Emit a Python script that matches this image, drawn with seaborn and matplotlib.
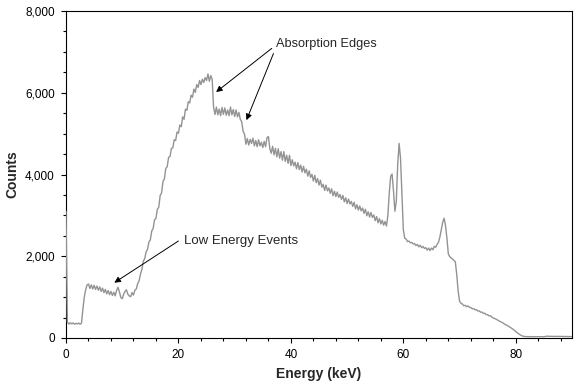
import numpy as np
import pandas as pd
import matplotlib
matplotlib.use("Agg")
import matplotlib.pyplot as plt
from matplotlib.ticker import MultipleLocator, FuncFormatter
import seaborn as sns

# Channel energies (keV), 0.25 keV per channel
energy = np.arange(0, 90.001, 0.25)

# Counts (one row = 2 keV)
counts = [
    3100, 390, 340, 372, 345, 368, 338, 360,
    342, 366, 338, 358, 700, 1000, 1180, 1300,
    1320, 1210, 1300, 1200, 1290, 1190, 1270, 1170,
    1250, 1140, 1220, 1110, 1190, 1080, 1160, 1060,
    1140, 1040, 1120, 1030, 1160, 1240, 1130, 990,
    960, 1070, 1140, 1180, 1070, 1030, 1010, 1110,
    1050, 1170, 1200, 1330, 1400, 1560, 1680, 1880,
    1940, 2110, 2170, 2350, 2400, 2620, 2680, 2890,
    2930, 3150, 3200, 3490, 3550, 3830, 3890, 4150,
    4190, 4420, 4440, 4640, 4650, 4850, 4830, 5040,
    5010, 5210, 5170, 5410, 5350, 5600, 5570, 5780,
    5750, 5940, 5890, 6090, 6010, 6200, 6130, 6300,
    6200, 6330, 6250, 6370, 6300, 6460, 6280, 6420,
    6330, 5640, 5470, 5650, 5460, 5600, 5440, 5640,
    5470, 5630, 5450, 5580, 5440, 5650, 5460, 5590,
    5420, 5580, 5410, 5520, 5350, 5290, 5060, 4990,
    4740, 4880, 4720, 4860, 4760, 4890, 4700, 4830,
    4680, 4850, 4700, 4790, 4660, 4810, 4680, 4900,
    4930, 4640, 4520, 4690, 4480, 4640, 4430, 4630,
    4400, 4560, 4350, 4560, 4320, 4470, 4270, 4470,
    4220, 4360, 4210, 4300, 4140, 4290, 4120, 4230,
    4060, 4200, 4040, 4130, 3960, 4090, 3930, 4000,
    3840, 3980, 3800, 3900, 3740, 3860, 3690, 3760,
    3610, 3740, 3600, 3670, 3540, 3650, 3480, 3590,
    3460, 3570, 3440, 3510, 3390, 3490, 3330, 3430,
    3290, 3400, 3280, 3340, 3220, 3320, 3160, 3260,
    3130, 3230, 3110, 3180, 3050, 3150, 2990, 3090,
    2960, 3070, 2950, 3010, 2870, 2970, 2820, 2920,
    2790, 2880, 2760, 2850, 2740, 3000, 3550, 3960,
    4010, 3600, 3100, 3350, 4250, 4760, 4400, 3500,
    2650, 2440, 2420, 2360, 2370, 2330, 2340, 2300,
    2310, 2260, 2290, 2230, 2270, 2210, 2240, 2190,
    2210, 2150, 2200, 2140, 2200, 2160, 2240, 2220,
    2290, 2340, 2470, 2650, 2830, 2930, 2750, 2450,
    2060, 1990, 1960, 1930, 1900, 1860, 1550, 1150,
    900, 850, 830, 790, 800, 765, 785, 750,
    745, 715, 720, 690, 695, 660, 665, 630,
    635, 600, 605, 570, 570, 540, 545, 510,
    490, 475, 460, 440, 420, 400, 385, 365,
    340, 320, 305, 285, 260, 240, 215, 190,
    160, 130, 105, 80, 60, 45, 38, 35,
    33, 32, 34, 31, 33, 32, 30, 33,
    32, 31, 33, 30, 32, 34, 45, 42,
    40, 41, 39, 40, 38, 40, 39, 38,
    37, 38, 36, 37, 35, 36, 34, 35,
    34,
]

x_ticks = [0, 20, 40, 60, 80]
y_ticks = [0, 2000, 4000, 6000, 8000]

df = pd.DataFrame({"Energy": energy, "Counts": counts})

sns.set_style("ticks")
plt.rcParams["font.family"] = ["Liberation Sans", "DejaVu Sans"]

fig = plt.figure(figsize=(5.78, 3.87), dpi=100)
ax = fig.add_axes([66 / 578, 1 - 338 / 387, (572 - 66) / 578, (338 - 11) / 387])

sns.lineplot(data=df, x="Energy", y="Counts", ax=ax, color="#939393",
             linewidth=1.0, estimator=None, zorder=3)

ax.set_xlim(0, 90)
ax.set_ylim(0, 8000)
ax.set_xticks(x_ticks)
ax.set_yticks(y_ticks)
ax.xaxis.set_minor_locator(MultipleLocator(4))
ax.yaxis.set_minor_locator(MultipleLocator(500))
ax.yaxis.set_major_formatter(FuncFormatter(lambda v, p: f"{int(v):,}"))

ax.tick_params(axis="both", which="major", length=3.5, width=0.8,
               labelsize=8.5, pad=4.5, color="black", labelcolor="black")
ax.tick_params(axis="both", which="minor", length=2, width=0.8, color="black")

for s in ax.spines.values():
    s.set_visible(True)
    s.set_color("black")
    s.set_linewidth(0.8)

ax.set_xlabel("Energy (keV)", fontsize=10, fontweight="bold", labelpad=4)
ax.set_ylabel("Counts", fontsize=10, fontweight="bold", labelpad=4)

arrow_kw = dict(arrowstyle="-|>", color="black", lw=0.7, mutation_scale=9,
                shrinkA=0, shrinkB=0)
ax.text(37.3, 7190, "Absorption Edges", fontsize=9.2, va="center", ha="left")
ax.annotate("", xy=(26.7, 6017), xytext=(36.6, 7086), arrowprops=arrow_kw)
ax.annotate("", xy=(32.1, 5330), xytext=(36.9, 6960), arrowprops=arrow_kw)
ax.text(21.0, 2373, "Low Energy Events", fontsize=9.5, va="center", ha="left")
ax.annotate("", xy=(8.6, 1353), xytext=(20.0, 2373), arrowprops=arrow_kw)

fig.savefig("out.png", dpi=100, facecolor="white")
